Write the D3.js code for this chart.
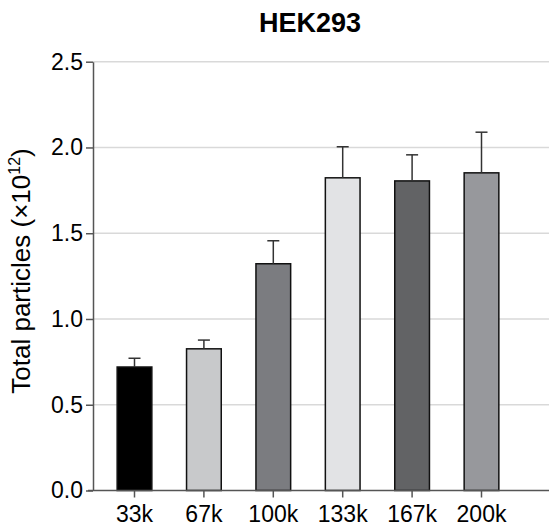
<!DOCTYPE html>
<html>
<head>
<meta charset="utf-8">
<script src="https://cdn.jsdelivr.net/npm/d3@7"></script>
<style>
  body { margin: 0; background: #fff; }
  text { font-family: "Liberation Sans", Arial, sans-serif; }
</style>
</head>
<body>
<div id="chart"></div>
<script>
const categories = ["33k", "67k", "100k", "133k", "167k", "200k"];
const means = [0.72, 0.826, 1.322, 1.823, 1.805, 1.852];
const errors = [0.051, 0.051, 0.134, 0.181, 0.152, 0.237];
const barColors = ["#000000", "#c8c9cb", "#7b7c80", "#e2e3e5", "#626365", "#97989c"];
const yTicks = [0, 0.5, 1.0, 1.5, 2.0, 2.5];

const width = 549, height = 529;

const svg = d3.select("#chart")
  .append("svg")
  .attr("width", width)
  .attr("height", height);

// scales
const x = d3.scaleBand()
  .domain(categories)
  .range([99.8, 516.2])
  .paddingInner(0.5)
  .paddingOuter(0.25);

const y = d3.scaleLinear()
  .domain([0, 2.5])
  .range([490.5, 61.7]);

// gridlines
svg.append("g")
  .selectAll("line")
  .data(yTicks.filter(d => d > 0))
  .enter()
  .append("line")
  .attr("x1", 93)
  .attr("x2", width)
  .attr("y1", d => y(d))
  .attr("y2", d => y(d))
  .attr("stroke", "#d9d9d9")
  .attr("stroke-width", 1.5);

// y axis
const yAxis = svg.append("g")
  .attr("transform", "translate(93,0)")
  .call(d3.axisLeft(y).tickValues(yTicks).tickFormat(d3.format(".1f")).tickSize(7).tickSizeOuter(0));
yAxis.select(".domain").attr("stroke", "#555").attr("stroke-width", 1.5);
yAxis.selectAll(".tick line").attr("stroke", "#555").attr("stroke-width", 1.5);
yAxis.selectAll("text")
  .attr("x", -10)
  .attr("fill", "#000")
  .style("font-size", "23px");

// bars
svg.append("g")
  .selectAll("rect")
  .data(categories)
  .enter()
  .append("rect")
  .attr("x", d => x(d))
  .attr("y", (d, i) => y(means[i]))
  .attr("width", x.bandwidth())
  .attr("height", (d, i) => y(0) - y(means[i]))
  .attr("fill", (d, i) => barColors[i])
  .attr("stroke", "#111")
  .attr("stroke-width", 1.5);

// error bars (upper only)
const err = svg.append("g");
err.selectAll(".stem")
  .data(categories)
  .enter()
  .append("line")
  .attr("x1", d => x(d) + x.bandwidth() / 2)
  .attr("x2", d => x(d) + x.bandwidth() / 2)
  .attr("y1", (d, i) => y(means[i]))
  .attr("y2", (d, i) => y(means[i] + errors[i]))
  .attr("stroke", "#333")
  .attr("stroke-width", 1.5);
err.selectAll(".cap")
  .data(categories)
  .enter()
  .append("line")
  .attr("x1", d => x(d) + x.bandwidth() / 2 - 6)
  .attr("x2", d => x(d) + x.bandwidth() / 2 + 6)
  .attr("y1", (d, i) => y(means[i] + errors[i]))
  .attr("y2", (d, i) => y(means[i] + errors[i]))
  .attr("stroke", "#333")
  .attr("stroke-width", 1.5);

// x axis
const xAxis = svg.append("g")
  .attr("transform", "translate(0," + y(0) + ")")
  .call(d3.axisBottom(x).tickSize(7).tickSizeOuter(0));
xAxis.select(".domain").remove();
xAxis.append("line")
  .attr("x1", 88)
  .attr("x2", width)
  .attr("stroke", "#555")
  .attr("stroke-width", 1.5);
xAxis.selectAll(".tick line").attr("stroke", "#555").attr("stroke-width", 1.5);
xAxis.selectAll("text")
  .attr("y", 15)
  .attr("fill", "#000")
  .style("font-size", "23px");

// title
svg.append("text")
  .attr("x", 310)
  .attr("y", 32)
  .attr("text-anchor", "middle")
  .style("font-size", "27px")
  .style("font-weight", "bold")
  .text("HEK293");

// y label
const yl = svg.append("text")
  .attr("transform", "translate(30,271) rotate(-90)")
  .attr("text-anchor", "middle")
  .style("font-size", "26px")
  .attr("fill", "#000");
yl.append("tspan").text("Total particles (\u00d710");
yl.append("tspan").attr("dy", -10).style("font-size", "16px").text("12");
yl.append("tspan").attr("dy", 10).text(")");
</script>
</body>
</html>
